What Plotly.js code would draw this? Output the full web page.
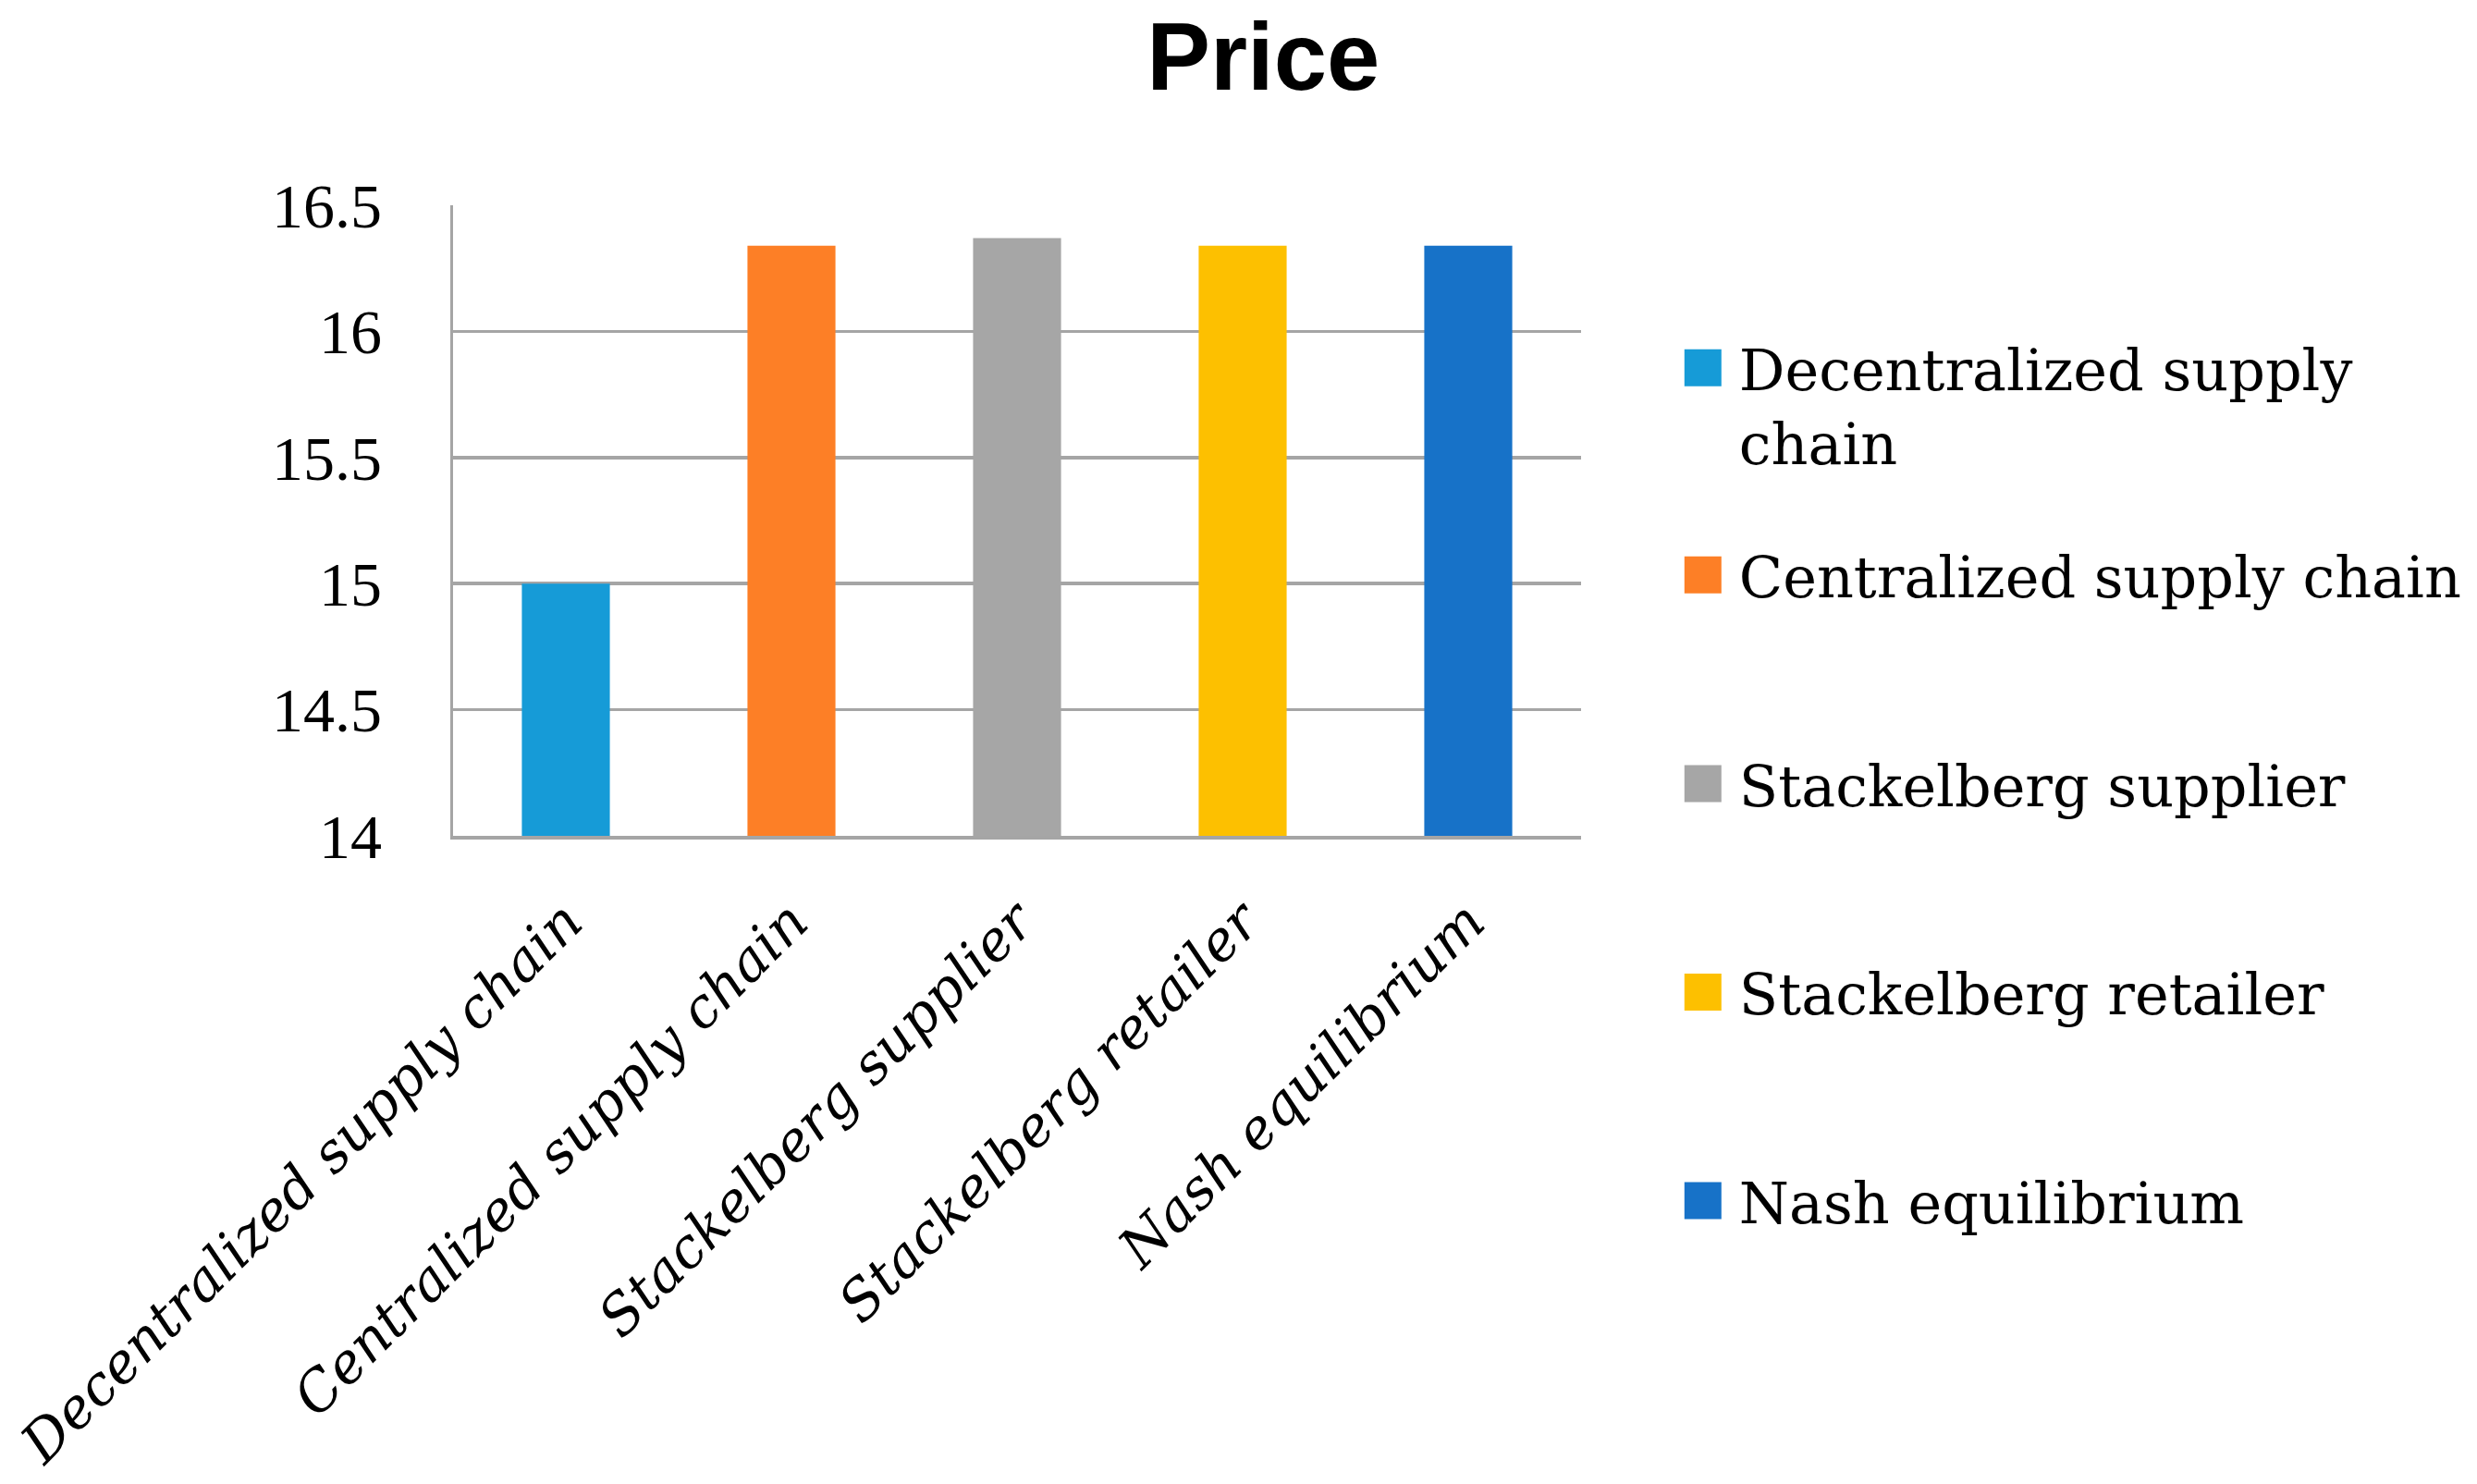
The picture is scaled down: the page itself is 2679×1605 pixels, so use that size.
<!DOCTYPE html>
<html>
<head>
<meta charset="utf-8">
<script src="https://cdn.plot.ly/plotly-3.0.1.min.js"></script>
<style>
  html, body { margin: 0; padding: 0; background: #ffffff; }
  #chart { width: 2679px; height: 1605px; }
</style>
</head>
<body>
<div id="chart"></div>
<script>
// values
var categories = ["Decentralized supply chain", "Centralized supply chain", "Stackelberg supplier", "Stackelberg retailer", "Nash equilibrium"];
var legendNames = ["Decentralized supply<br>chain", "Centralized supply chain", "Stackelberg supplier", "Stackelberg retailer", "Nash equilibrium"];
var prices = [15.0, 16.34, 16.37, 16.34, 16.34];
var barColors = ["#169bd7", "#fd7f26", "#a6a6a6", "#fdc000", "#1772c8"];
var yTicks = [14, 14.5, 15, 15.5, 16, 16.5];

var traces = [];
for (var i = 0; i < categories.length; i++) {
  traces.push({
    type: 'bar',
    x: [categories[i]],
    y: [prices[i]],
    name: legendNames[i],
    // the wrapped first entry sits in its own legend so the others keep even spacing
    legend: i == 0 ? 'legend' : 'legend2',
    legendgroup: 'g' + i,
    marker: { color: barColors[i] },
    hoverinfo: 'none'
  });
}

var gridColor = '#a5a5a5';
var legendFont = { family: '"DejaVu Serif", serif', size: 62, color: '#000000' };

var layout = {
  width: 2679,
  height: 1605,
  paper_bgcolor: '#ffffff',
  plot_bgcolor: '#ffffff',
  margin: { l: 490, r: 968, t: 222, b: 701 },
  barmode: 'overlay',
  bargap: 0.61,
  title: {
    text: '<b>Price</b>',
    font: { family: '"Liberation Sans", Arial, sans-serif', size: 103, color: '#000000' },
    x: 0.51, xref: 'container', xanchor: 'center',
    y: 0.962, yref: 'container', yanchor: 'middle'
  },
  xaxis: {
    type: 'category',
    tickangle: -45,
    tickfont: { family: '"DejaVu Serif", serif', size: 60, color: '#000000', style: 'italic' },
    ticklabelstandoff: 30,
    showline: true, linecolor: gridColor, linewidth: 3.5,
    showgrid: false, ticks: '', zeroline: false
  },
  yaxis: {
    range: [14, 16.5],
    tickvals: yTicks,
    tickfont: { family: '"Liberation Serif", serif', size: 68, color: '#000000' },
    ticklabelstandoff: 60,
    showline: true, linecolor: gridColor, linewidth: 3.5,
    showgrid: true, gridcolor: gridColor, gridwidth: 3.5,
    ticks: '', zeroline: false
  },
  legend: {
    x: 1.085, xanchor: 'left',
    y: 0.811, yanchor: 'top',
    font: legendFont,
    itemwidth: 56,
    valign: 'top',
    bgcolor: 'rgba(0,0,0,0)'
  },
  legend2: {
    x: 1.085, xanchor: 'left',
    y: 0.4824, yanchor: 'top',
    font: legendFont,
    traceorder: 'grouped',
    tracegroupgap: 142,
    itemwidth: 56,
    maxheight: 1000,
    bgcolor: 'rgba(0,0,0,0)'
  },
  showlegend: true
};

Plotly.newPlot('chart', traces, layout, { staticPlot: true }).then(function (gd) {
  // Excel-style larger legend squares
  gd.querySelectorAll('.legendpoints path').forEach(function (p) {
    p.setAttribute('d', 'M14,20H-26V-20H14Z');
  });
});
</script>
</body>
</html>
